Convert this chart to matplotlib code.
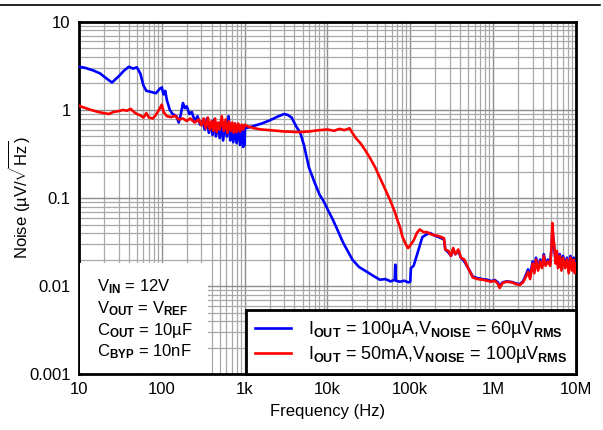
import matplotlib
matplotlib.use("Agg")
import matplotlib.pyplot as plt
from matplotlib.patches import Rectangle
from matplotlib.lines import Line2D

plt.rcParams['font.family'] = ['Liberation Sans', 'DejaVu Sans']
plt.rcParams['mathtext.fontset'] = 'custom'
plt.rcParams['mathtext.rm'] = 'Liberation Sans'
plt.rcParams['mathtext.it'] = 'Liberation Sans'
plt.rcParams['mathtext.bf'] = 'Liberation Sans:bold'

# data (frequency in Hz, noise in uV/rtHz)
f_blue = [10, 12, 15, 18, 20, 25, 30, 35, 40, 45, 50, 55, 60, 65, 75, 85, 95, 100,
          105, 110, 115, 125, 135, 150, 160, 170, 180, 190, 200, 215, 230, 250, 270,
          290, 310, 330, 350, 370, 390, 410, 430, 450, 470, 500, 520, 550, 580, 610,
          640, 670, 700, 730, 760, 800, 840, 880, 920, 960, 990, 1000, 1010, 1100,
          1300, 1600, 2000, 2500, 3000, 3300, 3700, 4200, 4700, 5200, 6000, 7000,
          8000, 9000, 10000, 11500, 13000, 15500, 18000, 20000, 24000, 30000, 36000,
          43000, 50000, 58000, 62000, 65000, 66000, 67000, 75000, 85000, 95000,
          100000, 102000, 110000, 123000, 140000, 160000, 175000, 190000, 220000,
          255000, 265000, 290000, 310000, 330000, 350000, 380000, 410000, 450000,
          500000, 570000, 650000, 750000, 850000, 950000, 1050000, 1150000, 1200000,
          1300000, 1450000, 1700000, 1900000, 2100000, 2300000, 2500000, 2650000,
          2800000, 3000000, 3150000, 3300000, 3500000, 3700000, 3900000, 4100000,
          4300000, 4600000, 4900000, 5100000, 5200000, 5350000, 5500000, 5700000,
          5900000, 6100000, 6400000, 6700000, 7000000, 7400000, 7800000, 8200000,
          8600000, 9000000, 9400000, 9700000, 10000000]
v_blue = [3.1, 3.0, 2.8, 2.6, 2.4, 2.05, 2.4, 2.8, 3.1, 2.95, 3.05, 2.6, 1.9, 1.65,
          1.6, 1.55, 1.75, 1.8, 1.5, 1.65, 1.3, 1.0, 0.9, 0.85, 0.72, 0.9, 1.2, 1.05,
          1.1, 0.9, 0.95, 0.75, 0.85, 0.68, 0.75, 0.6, 0.8, 0.55, 0.72, 0.52, 0.78,
          0.5, 0.7, 0.48, 0.75, 0.45, 0.7, 0.5, 0.85, 0.45, 0.65, 0.43, 0.7, 0.42,
          0.68, 0.4, 0.62, 0.38, 0.6, 0.4, 0.62, 0.63, 0.66, 0.7, 0.76, 0.84, 0.9,
          0.88, 0.82, 0.65, 0.55, 0.4, 0.22, 0.15, 0.11, 0.092, 0.075, 0.058, 0.045,
          0.031, 0.024, 0.02, 0.0165, 0.0145, 0.013, 0.0118, 0.012, 0.0113, 0.0116,
          0.0118, 0.0175, 0.0115, 0.0112, 0.0115, 0.011, 0.0112, 0.016, 0.017, 0.024,
          0.036, 0.039, 0.04, 0.038, 0.036, 0.034, 0.026, 0.024, 0.022, 0.026, 0.023,
          0.025, 0.021, 0.019, 0.016, 0.0128, 0.0123, 0.012, 0.0118, 0.0114, 0.0117,
          0.011, 0.0099, 0.011, 0.0113, 0.0111, 0.0107, 0.0105, 0.0113, 0.0135,
          0.0155, 0.0128, 0.019, 0.015, 0.021, 0.016, 0.02, 0.017, 0.023, 0.018,
          0.02, 0.018, 0.028, 0.045, 0.033, 0.026, 0.019, 0.024, 0.017, 0.023, 0.016,
          0.022, 0.017, 0.021, 0.015, 0.022, 0.016, 0.021, 0.015, 0.019]

f_red = [10, 11, 12, 14, 17, 20, 23, 26, 30, 34, 38, 42, 46, 50, 55, 60, 65, 70, 78,
         85, 95, 100, 105, 115, 130, 145, 160, 180, 200, 220, 250, 280, 300, 320, 340,
         360, 380, 400, 420, 440, 460, 480, 500, 530, 560, 590, 620, 650, 680, 710,
         740, 770, 800, 840, 880, 920, 960, 1000, 1100, 1300, 1600, 2000, 3000, 4500,
         6000, 8000, 10000, 12000, 14000, 16000, 18500, 20000, 22000, 25000, 28000,
         33000, 38000, 43000, 50000, 57000, 65000, 70000, 75000, 80000, 88000, 94000,
         100000, 110000, 120000, 130000, 145000, 160000, 175000, 190000, 220000,
         255000, 265000, 290000, 310000, 330000, 350000, 380000, 410000, 450000,
         500000, 570000, 650000, 750000, 850000, 950000, 1050000, 1150000, 1200000,
         1300000, 1450000, 1700000, 1900000, 2100000, 2300000, 2500000, 2650000,
         2800000, 3000000, 3150000, 3300000, 3500000, 3700000, 3900000, 4100000,
         4300000, 4600000, 4900000, 5100000, 5200000, 5350000, 5500000, 5700000,
         5900000, 6100000, 6400000, 6700000, 7000000, 7400000, 7800000, 8200000,
         8600000, 9000000, 9400000, 9700000, 10000000]
v_red = [1.12, 1.08, 1.05, 1.0, 0.95, 0.92, 0.9, 0.95, 0.97, 1.0, 0.98, 1.03, 0.95,
         0.9, 0.87, 0.82, 0.92, 0.82, 0.8, 0.88, 1.05, 1.15, 0.95, 0.85, 0.83, 0.86,
         0.78, 0.8, 0.75, 0.8, 0.72, 0.78, 0.67, 0.8, 0.62, 0.82, 0.6, 0.75, 0.58,
         0.8, 0.56, 0.72, 0.6, 0.85, 0.58, 0.78, 0.55, 0.74, 0.58, 0.72, 0.55, 0.7,
         0.56, 0.7, 0.57, 0.68, 0.6, 0.68, 0.65, 0.62, 0.6, 0.59, 0.57, 0.56, 0.57,
         0.59, 0.6, 0.58, 0.61, 0.59, 0.62, 0.55, 0.48, 0.42, 0.36, 0.28, 0.22, 0.17,
         0.125, 0.095, 0.07, 0.056, 0.047, 0.037, 0.03, 0.027, 0.029, 0.033, 0.04,
         0.044, 0.041, 0.041, 0.039, 0.038, 0.037, 0.035, 0.026, 0.025, 0.022, 0.027,
         0.023, 0.026, 0.021, 0.02, 0.016, 0.0125, 0.012, 0.0118, 0.0115, 0.0112,
         0.0115, 0.0105, 0.0095, 0.0108, 0.0112, 0.011, 0.0105, 0.0103, 0.011,
         0.0128, 0.0145, 0.012, 0.018, 0.014, 0.02, 0.015, 0.019, 0.016, 0.022, 0.017,
         0.019, 0.017, 0.03, 0.052, 0.035, 0.028, 0.018, 0.025, 0.016, 0.022, 0.015,
         0.021, 0.016, 0.02, 0.014, 0.021, 0.015, 0.02, 0.014, 0.018]

xticks = [10, 100, 1e3, 1e4, 1e5, 1e6, 1e7]
xlabels = ['10', '100', '1k', '10k', '100k', '1M', '10M']
yticks = [0.001, 0.01, 0.1, 1, 10]
ylabels = ['0.001', '0.01', '0.1', '1', '10']

fig = plt.figure(figsize=(6.03, 4.30), dpi=100)
ax = fig.add_axes([0.131, 0.130, 0.824, 0.819])
fig.add_artist(Line2D([0.0, 0.995], [0.988, 0.988], color='black', lw=1.2))

ax.set_xscale('log')
ax.set_yscale('log')
ax.set_xlim(10, 1e7)
ax.set_ylim(0.001, 10)

ax.grid(True, which='major', color='#8c8c8c', lw=1.0)
ax.grid(True, which='minor', color='#a8a8a8', lw=0.9)
ax.set_axisbelow(True)

ax.plot(f_blue, v_blue, color='#0000ff', lw=1.9, zorder=3)
ax.plot(f_red, v_red, color='#ff0000', lw=1.9, zorder=4)

ax.set_xticks(xticks)
ax.set_xticklabels(xlabels)
ax.set_yticks(yticks)
ax.set_yticklabels(ylabels)
ax.tick_params(which='both', length=0, labelsize=12, pad=6)
for s in ax.spines.values():
    s.set_linewidth(2)

ax.set_xlabel('Frequency (Hz)', fontsize=12, labelpad=5)
ax.set_ylabel(r'Noise (µV/$\sqrt{\mathrm{Hz}}$)', fontsize=12)
ax.yaxis.set_label_coords(-0.095, 0.5)

# conditions box
ax.add_patch(Rectangle((0.003, 0.003), 0.257, 0.312, transform=ax.transAxes,
                       facecolor='white', edgecolor='none', zorder=5))
cond = [r'V$_{\mathbf{IN}}$ = 12V',
        r'V$_{\mathbf{OUT}}$ = V$_{\mathbf{REF}}$',
        r'C$_{\mathbf{OUT}}$ = 10µF',
        r'C$_{\mathbf{BYP}}$ = 10nF']
for i, t in enumerate(cond):
    ax.text(0.036, 0.247 - i * 0.061, t, transform=ax.transAxes, fontsize=12,
            va='center', ha='left', zorder=6)

h1 = Line2D([], [], color='#0000ff', lw=1.9)
h2 = Line2D([], [], color='#ff0000', lw=1.9)
labels = [r'I$_{\mathbf{OUT}}$ = 100µA,V$_{\mathbf{NOISE}}$ = 60µV$_{\mathbf{RMS}}$',
          r'I$_{\mathbf{OUT}}$ = 50mA,V$_{\mathbf{NOISE}}$ = 100µV$_{\mathbf{RMS}}$']
leg = ax.legend([h1, h2], labels,
                loc='lower right', bbox_to_anchor=(1.0, 0.0), borderaxespad=0,
                fancybox=False, framealpha=1, edgecolor='black', fontsize=13,
                handlelength=2.0, handletextpad=0.9, labelspacing=0.2,
                borderpad=0.5)
leg.get_frame().set_linewidth(2)
leg.set_zorder(7)

fig.savefig('out.png', dpi=100)
